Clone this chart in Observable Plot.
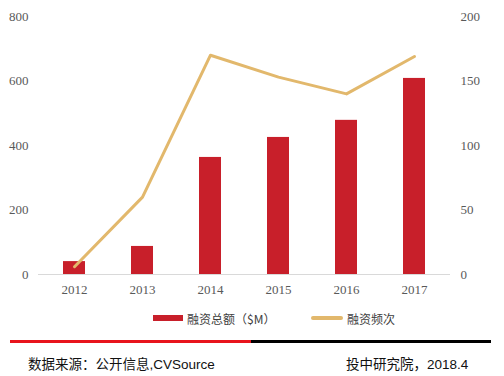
<!DOCTYPE html>
<html>
<head>
<meta charset="utf-8">
<script src="https://cdn.jsdelivr.net/npm/d3@7"></script>
<script src="https://cdn.jsdelivr.net/npm/@observablehq/plot@0.6"></script>
<style>
  body { margin: 0; background: #fff; width: 504px; height: 376px; overflow: hidden; font-family: "Noto Sans CJK SC", sans-serif; }
  #chart svg { display: block; }
  .legend { position: absolute; top: 310px; left: 0; width: 504px; height: 16px; font-size: 12px; color: #404040; font-family: "Noto Sans CJK SC", serif; }
  .legend .item { position: absolute; top: 0; display: flex; align-items: center; height: 16px; }
  .sw { display: inline-block; margin-right: 4px; }
  .sep { position: absolute; top: 340px; height: 3px; }
  .foot { position: absolute; top: 353px; font-size: 13.5px; color: #111; font-family: "Liberation Sans", "Noto Sans CJK SC", sans-serif; }
</style>
</head>
<body>
<div id="chart"></div>
<div class="legend">
  <div class="item" style="left:153px"><span class="sw" style="width:30px;height:6px;background:#c81f2a"></span><span id="lg1"></span></div>
  <div class="item" style="left:311px"><span class="sw" style="width:32px;height:4px;border-radius:2px;background:#e2b86c"></span><span id="lg2"></span></div>
</div>
<div class="sep" style="left:10px;width:241px;background:#e8141c"></div>
<div class="sep" style="left:251px;width:240px;background:#000"></div>
<div class="foot" style="left:28px">数据来源：公开信息,CVSource</div>
<div class="foot" style="left:346px">投中研究院，2018.4</div>
<script>
const years = ["2012", "2013", "2014", "2015", "2016", "2017"];
const amount = [40, 87, 363, 425, 478, 608];     // 融资总额 ($M), left axis
const frequency = [6, 60, 170, 153, 140, 169];   // 融资频次, right axis
const leftTicks = [0, 200, 400, 600, 800];
const rightTicks = [0, 50, 100, 150, 200];
const seriesNames = ["融资总额（$M）", "融资频次"];

document.getElementById("lg1").textContent = seriesNames[0];
document.getElementById("lg2").textContent = seriesNames[1];

const ratio = 800 / 200;
const data = years.map((y, i) => ({year: y, amount: amount[i], freq: frequency[i]}));

const chart = Plot.plot({
  width: 504,
  height: 300,
  marginLeft: 38,
  marginRight: 54,
  marginTop: 16,
  marginBottom: 26,
  style: {fontFamily: "'Liberation Serif', serif", fontSize: "13px", color: "#595959", background: "#fff"},
  x: {domain: years, paddingInner: 0.68, paddingOuter: 0.34, label: null},
  y: {domain: [0, 800], label: null},
  marks: [
    Plot.axisY(leftTicks, {anchor: "left", tickSize: 0, tickPadding: 10, label: null, fill: "#595959"}),
    Plot.axisY(rightTicks.map(d => d * ratio), {anchor: "right", tickSize: 0, tickPadding: 10, label: null, fill: "#595959", tickFormat: d => d / ratio}),
    Plot.axisX({tickSize: 0, tickPadding: 10, label: null, fill: "#595959"}),
    Plot.barY(data, {x: "year", y: "amount", fill: "#c81f2a"}),
    Plot.ruleY([0], {stroke: "#d9d9d9", strokeWidth: 1}),
    Plot.line(data, {x: "year", y: d => d.freq * ratio, stroke: "#e2b86c", strokeWidth: 3, strokeLinejoin: "round", strokeLinecap: "round"})
  ]
});
document.getElementById("chart").appendChild(chart);
</script>
</body>
</html>
